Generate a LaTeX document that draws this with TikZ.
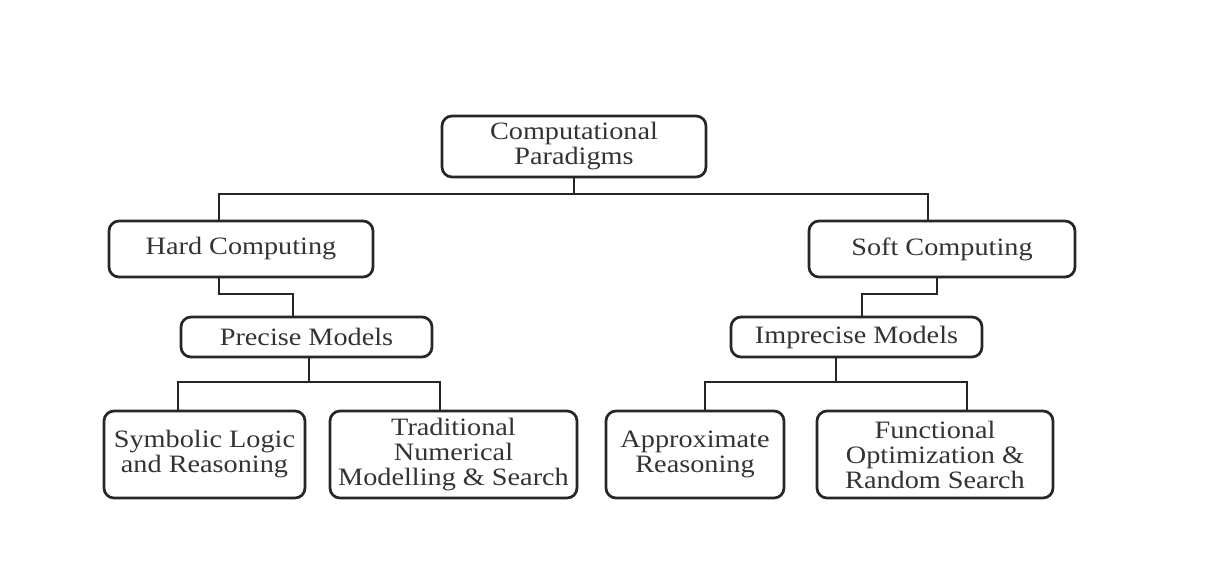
\documentclass[tikz,border=0pt]{standalone}
\usepackage{fontspec}
\setmainfont{Liberation Serif}[FakeStretch=1.13]
\usetikzlibrary{positioning}

\begin{document}
\begin{tikzpicture}[x=1pt, y=-1pt, line width=2.7pt,
    box/.style={draw=black!85, rounded corners=10pt, inner sep=0pt, outer sep=0pt, align=center,
      text=black!80, font=\fontsize{25}{25}\selectfont},
    link/.style={draw=black!85, line width=2.7pt}]
  \useasboundingbox (0,0) rectangle (1209,567);

  \node[box, minimum width=264pt, minimum height=61pt] (root) at (574,146.5) {Computational\\Paradigms};
  \node[box, minimum width=264pt, minimum height=56pt, below=44pt of root, xshift=-333pt] (hard) {Hard Computing};
  \node[box, minimum width=266pt, minimum height=56pt, below=44pt of root, xshift=368pt] (soft) {Soft Computing};
  \node[box, minimum width=251pt, minimum height=40pt, below=40pt of hard, xshift=65.5pt] (precise) {Precise Models};
  \node[box, minimum width=251pt, minimum height=40pt, below=40pt of soft, xshift=-85.5pt] (imprecise) {Imprecise Models};
  \node[box, minimum width=201pt, minimum height=87pt, below=54pt of precise, xshift=-102pt] (symbolic) {Symbolic Logic\\and Reasoning};
  \node[box, minimum width=247pt, minimum height=87pt, below=54pt of precise, xshift=147pt] (numerical) {Traditional\\Numerical\\Modelling \& Search};
  \node[box, minimum width=178pt, minimum height=87pt, below=54pt of imprecise, xshift=-161.5pt] (approx) {Approximate\\Reasoning};
  \node[box, minimum width=236pt, minimum height=87pt, below=54pt of imprecise, xshift=78.5pt] (optim) {Functional\\Optimization \&\\Random Search};

  \draw[link] (root.south) -- ++(0,17) coordinate (split);
  \draw[link] (split) -| ([xshift=-22pt]hard.north);
  \draw[link] (split) -| ([xshift=-14pt]soft.north);
  \draw[link] ([xshift=-22pt]hard.south) -- ++(0,17) -| ([xshift=-13.5pt]precise.north);
  \draw[link] ([xshift=-5pt]soft.south) -- ++(0,17) -| ([xshift=5.5pt]imprecise.north);
  \draw[link] ([xshift=2.5pt]precise.south) -- ++(0,25) coordinate (hardsplit);
  \draw[link] (hardsplit) -| ([xshift=-26.5pt]symbolic.north);
  \draw[link] (hardsplit) -| ([xshift=-13.5pt]numerical.north);
  \draw[link] ([xshift=-20.5pt]imprecise.south) -- ++(0,25) coordinate (softsplit);
  \draw[link] (softsplit) -| ([xshift=10pt]approx.north);
  \draw[link] (softsplit) -| ([xshift=32pt]optim.north);
\end{tikzpicture}
\end{document}
